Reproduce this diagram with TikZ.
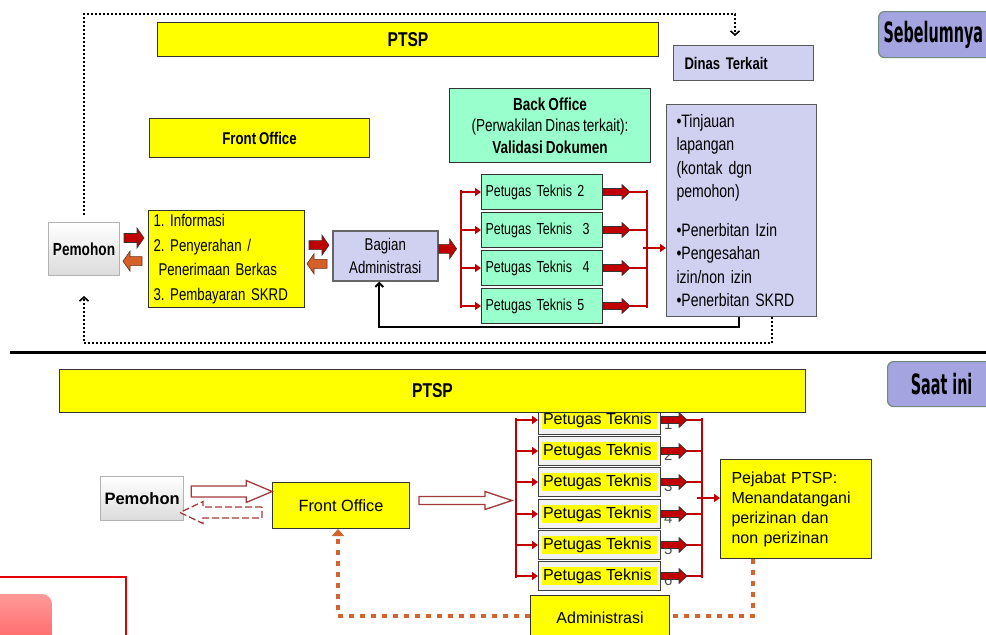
\documentclass[tikz,border=0pt]{standalone}
\usepackage{fontspec}
\setmainfont{Liberation Sans}
\newfontfamily\narrowsf{Liberation Sans}[FakeStretch=0.78, WordSpace=0.8]
\newfontfamily\tagfont{DejaVu Sans Condensed}[FakeStretch=0.57]
\usepackage{xcolor}
\usepackage{tikz}
\usetikzlibrary{arrows.meta,calc}
\frenchspacing

\definecolor{ptyellow}{HTML}{FFFF00}
\definecolor{bogreen}{HTML}{99FFCC}
\definecolor{dinlav}{HTML}{D0D0F0}
\definecolor{taglav}{HTML}{A4A4E0}
\definecolor{tagedge}{HTML}{6E8A7A}
\definecolor{arred}{HTML}{C00000}
\definecolor{arorange}{HTML}{D6602A}
\definecolor{dotorange}{HTML}{D2642C}
\definecolor{holred}{HTML}{A33A3A}
\definecolor{pboxgray}{HTML}{F2F2F2}
\setlength{\fboxsep}{1.5pt}

% block arrow: [style]{start}{signed length}
\newcommand{\shh}{4.5pt}\newcommand{\hdh}{10pt}\newcommand{\hdl}{7pt}
\newcommand{\blockarr}[3][]{%
  \draw[#1] ([yshift=\shh]#2) -- ([xshift={#3-sign(#3)*\hdl}, yshift=\shh]#2)
    -- ([xshift={#3-sign(#3)*\hdl}, yshift=\hdh]#2) -- ([xshift={#3}]#2)
    -- ([xshift={#3-sign(#3)*\hdl}, yshift=-\hdh]#2)
    -- ([xshift={#3-sign(#3)*\hdl}, yshift=-\shh]#2)
    -- ([yshift=-\shh]#2) -- cycle;}

\begin{document}
\begin{tikzpicture}[x=1pt, y=-1pt,
    box/.style={draw=black!80, line width=1pt, anchor=north west, inner sep=4pt},
    yel/.style={box, fill=ptyellow},
    aqua/.style={box, fill=bogreen},
    lav/.style={box, fill=dinlav, draw=black!65},
    tag/.style={box, fill=taglav, draw=tagedge, line width=1.2pt, rounded corners=6pt,
                font=\tagfont\bfseries\fontsize{28}{28}\selectfont},
    pem/.style={box, draw=gray!60, top color=white, bottom color=gray!28,
                font=\bfseries\fontsize{16.5}{16.5}\selectfont},
    pbox/.style={box, fill=pboxgray, draw=black!75, minimum width=122pt, minimum height=29pt,
                 inner xsep=3pt, align=left, font=\fontsize{16}{16}\selectfont},
    num/.style={inner sep=0pt, xshift=3pt, yshift=-4pt, text=gray!60!black, font=\fontsize{15}{15}\selectfont},
    redln/.style={draw=arred, line width=2.6pt},
    redtip/.style={redln, -{Triangle[length=6pt, width=8pt]}},
    fillarr/.style={fill=arred, draw=black!80, line width=0.6pt},
    orarr/.style={fill=arorange, draw=arorange!50!black, line width=0.6pt},
    holarr/.style={fill=white, draw=holred, line width=1.3pt},
    dotln/.style={line width=1.6pt, dash pattern=on 1.6pt off 2.4pt},
    odot/.style={draw=dotorange, line width=4.5pt, dash pattern=on 5pt off 6pt},
    fbln/.style={line width=2pt, -{Straight Barb[length=4pt, width=8pt]}}
  ]
  \useasboundingbox (0,0) rectangle (986,635);

  % ---- before ----
  \node[yel, minimum width=501pt, minimum height=34pt,
        font=\narrowsf\bfseries\fontsize{20}{20}\selectfont] (ptsp1) at (157,22) {PTSP};
  \node[lav, minimum width=140pt, minimum height=35pt, text width=118pt, inner xsep=11pt,
        align=left, font=\narrowsf\bfseries\fontsize{16.8}{18}\selectfont] (dinas) at (673,45) {Dinas Terkait};
  \node[tag, minimum width=115pt, minimum height=46pt, text width=105pt, align=left] (before) at (878,11) {Sebelumnya};
  \node[yel, minimum width=220pt, minimum height=39pt,
        font=\narrowsf\bfseries\fontsize{17}{18}\selectfont] (fo1) at (149,118) {Front Office};
  \node[aqua, minimum width=201pt, minimum height=74pt, align=center,
        font=\narrowsf\fontsize{17.4}{21.5}\selectfont] (bo) at (449,88)
        {\textbf{Back Office}\\(Perwakilan Dinas terkait):\\\textbf{Validasi Dokumen}};
  \node[lav, minimum width=150pt, minimum height=212pt, text width=130pt, inner xsep=10pt,
        align=left, font=\narrowsf\fontsize{18}{23.5}\selectfont] (tinjau) at (666,104)
        {•Tinjauan\\lapangan\\(kontak dgn\\pemohon)\\[15pt]•Penerbitan Izin\\•Pengesahan\\izin/non izin\\•Penerbitan SKRD};
  \node[pem, minimum width=71pt, minimum height=53pt,
        font=\narrowsf\bfseries\fontsize{17.5}{17.5}\selectfont] (pem1) at (48,222) {Pemohon};
  \node[yel, minimum width=156pt, minimum height=96pt, text width=146pt, inner xsep=5pt,
        align=left, font=\narrowsf\fontsize{17}{24.5}\selectfont] (steps) at (148,210)
        {1. Informasi\\2. Penyerahan /\\\hspace*{5pt}Penerimaan Berkas\\3. Pembayaran SKRD};
  \node[lav, draw=gray!80!black, line width=1.6pt, minimum width=105pt, minimum height=50pt,
        align=center, font=\narrowsf\fontsize{17}{23}\selectfont] (bagian) at (332,230) {Bagian\\Administrasi};
  \foreach \n/\y/\t in {2/174/{Petugas Teknis 2}, 3/212/{Petugas Teknis~~3},
                        4/250/{Petugas Teknis~~4}, 5/288/{Petugas Teknis 5}}
    \node[aqua, minimum width=121pt, minimum height=35pt, text width=113pt, align=left,
          font=\narrowsf\fontsize{16}{16}\selectfont] (pt\n) at (481,\y) {\t};

  % dotted loop
  \coordinate (loopT) at (735,14);
  \coordinate (loopB) at (772,343);
  \draw[dotln, -{Straight Barb[length=4pt, width=9pt]}] ([yshift=7pt]pem1.north) |- (loopT)
       -- ([yshift=9pt]dinas.north -| loopT);
  \draw[dotln, -{Straight Barb[length=4pt, width=9pt]}] (tinjau.south -| loopB) -- (loopB)
       -| ([yshift=-20pt]pem1.south);

  % feedback to Bagian Administrasi
  \coordinate (fb) at (739,327);
  \draw[fbln] (tinjau.south -| fb) -- (fb) -| ([xshift=-6pt]bagian.south);

  % block arrows front
  \coordinate (a1) at ([xshift=4pt, yshift=11pt]pem1.east);
  \coordinate (a2) at ([xshift=-6pt, yshift=-2pt]steps.west);
  \coordinate (a3) at ([xshift=4pt, yshift=14pt]steps.east);
  \coordinate (a4) at ([xshift=-5pt, yshift=-8pt]bagian.west);
  \coordinate (a5) at ([yshift=7pt]bagian.east);
  \blockarr[fillarr]{a1}{20pt}
  \blockarr[orarr]{a2}{-19pt}
  \blockarr[fillarr]{a3}{20pt}
  \blockarr[orarr]{a4}{-20pt}
  \blockarr[fillarr]{a5}{18pt}

  % brackets to and from Petugas Teknis
  \coordinate (lbrk) at (461,248);
  \coordinate (rbrk) at (647,248);
  \draw[redln, shorten <=-2pt, shorten >=-2pt] (lbrk |- pt2) -- (lbrk |- pt5);
  \draw[redln, shorten <=-2pt, shorten >=-2pt] (rbrk |- pt2) -- (rbrk |- pt5);
  \renewcommand{\shh}{3.5pt}\renewcommand{\hdh}{7.5pt}\renewcommand{\hdl}{8pt}
  \foreach \n in {2,...,5} {
    \draw[redtip] (lbrk |- pt\n) -- (pt\n.west);
    \draw[redln] (pt\n.east) -- (rbrk |- pt\n);
    \blockarr[fillarr]{pt\n.east}{27pt}
  }
  \draw[redtip] ([xshift=-4pt]rbrk) -- (tinjau.west |- rbrk);

  \coordinate (sepL) at (10,352);
  \coordinate (sepR) at (986,352);
  \draw[line width=3pt] (sepL) -- (sepR);

  % ---- now ----
  \foreach \n/\y in {1/405, 2/436, 3/467, 4/499, 5/530, 6/561}
    \node[pbox, label={[num]east:\n}] (pb\n) at (538,\y) {\colorbox{ptyellow}{Petugas Teknis\ }};
  \node[yel, minimum width=746pt, minimum height=43pt,
        font=\narrowsf\bfseries\fontsize{20}{20}\selectfont] (ptsp2) at (59,369) {PTSP};
  \node[tag, minimum width=108pt, minimum height=45pt, align=center] (now) at (887,361) {Saat ini};
  \node[pem, minimum width=77pt, minimum height=44pt] (pem2) at (100,476) {Pemohon};
  \node[yel, minimum width=137pt, minimum height=46pt, font=\fontsize{16.3}{16}\selectfont] (fo2) at (272,482) {Front Office};
  \node[yel, minimum width=151pt, minimum height=99pt, text width=129pt, inner xsep=11pt,
        align=left, font=\fontsize{16}{20}\selectfont] (pejabat) at (720,459)
        {Pejabat PTSP:\\Menandatangani\\perizinan dan\\non perizinan};
  \node[yel, minimum width=139pt, minimum height=45pt, font=\fontsize{16}{16}\selectfont] (admin) at (530,595) {Administrasi};

  \coordinate (lbrk2) at (516,498);
  \coordinate (rbrk2) at (702,498);
  \draw[redln, shorten <=-2pt, shorten >=-2pt] (lbrk2 |- pb1) -- (lbrk2 |- pb6);
  \draw[redln, shorten <=-2pt, shorten >=-2pt] (rbrk2 |- pb1) -- (rbrk2 |- pb6);
  \foreach \n in {1,...,6} {
    \draw[redtip] (lbrk2 |- pb\n) -- (pb\n.west);
    \draw[redln] (pb\n.east) -- (rbrk2 |- pb\n);
    \blockarr[fillarr]{pb\n.east}{26pt}
  }
  \draw[redtip] ([xshift=-5pt]rbrk2) -- (pejabat.west |- rbrk2);

  % hollow arrows
  \renewcommand{\shh}{5.5pt}\renewcommand{\hdh}{11pt}\renewcommand{\hdl}{26pt}
  \coordinate (h1) at ([xshift=7pt, yshift=7pt]pem2.east);
  \blockarr[holarr]{h1}{81pt}
  \renewcommand{\hdl}{23pt}
  \coordinate (h2) at ([xshift=-10pt, yshift=-7pt]fo2.west);
  \blockarr[holarr, dash pattern=on 7pt off 3pt]{h2}{-82pt}
  \renewcommand{\shh}{4pt}\renewcommand{\hdh}{9pt}\renewcommand{\hdl}{27pt}
  \coordinate (h3) at ([xshift=9pt, yshift=5pt]fo2.east);
  \blockarr[holarr]{h3}{93pt}

  % orange dotted return
  \coordinate (ob) at (753,616);
  \draw[odot] (pejabat.south -| ob) -- (ob) -- (admin.east |- ob);
  \draw[odot, -{Triangle[length=7pt, width=12pt]}] (admin.west |- ob) -| ([xshift=-3pt]fo2.south);

  % corner fragment
  \draw[draw=red!90!black, line width=2pt, fill=white] (-2,577) rectangle (126,640);
  \shade[top color=red!40!white, bottom color=red!62!white, rounded corners=10pt] (-20,594) rectangle (52,650);
\end{tikzpicture}
\end{document}
